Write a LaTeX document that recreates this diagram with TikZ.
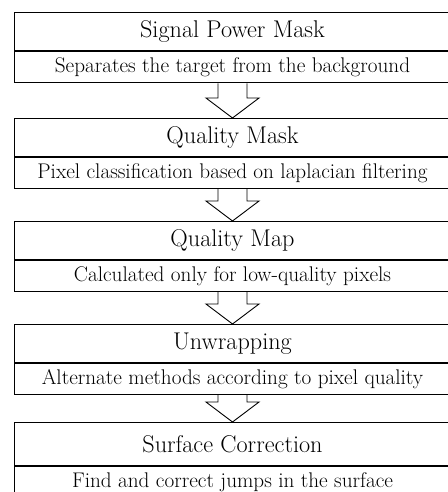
\documentclass[tikz,border=0pt]{standalone}
\usetikzlibrary{calc}
\tikzstyle{stage} = [rectangle, draw, line width=0.9pt, minimum width=437pt, minimum height=38pt, inner sep=0pt, text centered, font=\fontsize{24.2}{26}\selectfont]
\tikzstyle{note} = [rectangle, draw, line width=0.9pt, minimum width=437pt, minimum height=31pt, inner sep=0pt, text centered, font=\fontsize{21.2}{23}\selectfont]
\tikzstyle{flow} = [line width=0.9pt, line join=miter]

\begin{document}
\begin{tikzpicture}[x=1pt, y=-1pt]
            \useasboundingbox (0,0) rectangle (447,492);
            \node [stage, anchor=north] at (232.5,12.5) (power) {Signal Power Mask};
            \node [note, anchor=north] at (power.south) (powernote) {Separates the target from the background};
            \node [stage, anchor=north] at (232.5,118) (qmask) {Quality Mask};
            \node [note, anchor=north] at (qmask.south) (qmasknote) {Pixel classification based on laplacian filtering};
            \node [stage, anchor=north] at (232.5,221) (qmap) {Quality Map};
            \node [note, anchor=north] at (qmap.south) (qmapnote) {Calculated only for low-quality pixels};
            \node [stage, anchor=north] at (232.5,324) (unwrap) {Unwrapping};
            \node [note, anchor=north] at (unwrap.south) (unwrapnote) {Alternate methods according to pixel quality};
            \node [stage, anchor=north, minimum height=43pt] at (232.5,422) (surface) {Surface Correction};
            \node [note, anchor=north] at (surface.south) (surfacenote) {Find and correct jumps in the surface};

            \draw [flow] ($(powernote.south)+(-14.5,0)$) -- ($(qmask.north)+(-14.5,-20)$) -- ($(qmask.north)+(-26.5,-20)$) -- (qmask.north) -- ($(qmask.north)+(26.5,-20)$) -- ($(qmask.north)+(14.5,-20)$) -- ($(powernote.south)+(14.5,0)$);
            \draw [flow] ($(qmasknote.south)+(-14.5,0)$) -- ($(qmap.north)+(-14.5,-20)$) -- ($(qmap.north)+(-26.5,-20)$) -- (qmap.north) -- ($(qmap.north)+(26.5,-20)$) -- ($(qmap.north)+(14.5,-20)$) -- ($(qmasknote.south)+(14.5,0)$);
            \draw [flow] ($(qmapnote.south)+(-14.5,0)$) -- ($(unwrap.north)+(-14.5,-20)$) -- ($(unwrap.north)+(-26.5,-20)$) -- (unwrap.north) -- ($(unwrap.north)+(26.5,-20)$) -- ($(unwrap.north)+(14.5,-20)$) -- ($(qmapnote.south)+(14.5,0)$);
            \draw [flow] ($(unwrapnote.south)+(-14.5,0)$) -- ($(surface.north)+(-14.5,-20)$) -- ($(surface.north)+(-26.5,-20)$) -- (surface.north) -- ($(surface.north)+(26.5,-20)$) -- ($(surface.north)+(14.5,-20)$) -- ($(unwrapnote.south)+(14.5,0)$);
\end{tikzpicture}
\end{document}
